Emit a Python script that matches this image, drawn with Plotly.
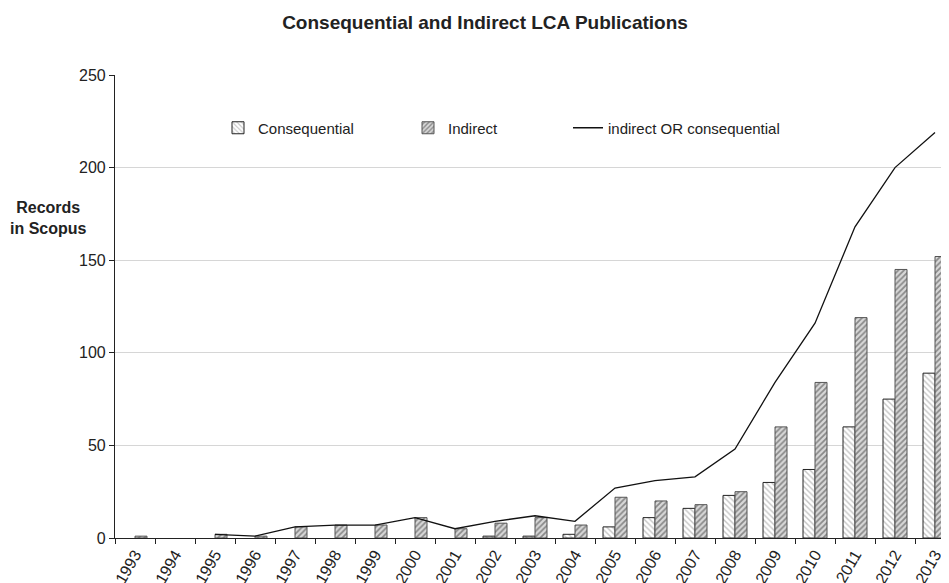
import plotly.graph_objects as go

years = [str(y) for y in range(1993, 2014)]
consequential = [0, 0, 0, 0, 0, 0, 0, 0, 0, 1, 1, 2, 6, 11, 16, 23, 30, 37, 60, 75, 89]
indirect = [1, 0, 2, 1, 6, 7, 7, 11, 5, 8, 11, 7, 22, 20, 18, 25, 60, 84, 119, 145, 152]
combined = [None, None, 2, 1, 6, 7, 7, 11, 5, 9, 12, 9, 27, 31, 33, 48, 84, 116, 168, 200, 219]
y_ticks = [0, 50, 100, 150, 200, 250]

FONT = "Liberation Sans, Arial, sans-serif"
OFF = 8                      # page body margin offset
W, H = 949 - OFF, 583 - OFF  # figure size
# plot area in page pixels: x 115..949, y 75..538
L = 115 - OFF
R = 0
T = 75 - OFF
B = H - (538 - OFF)

def px_x(px):  # page px -> paper x
    return (px - OFF - L) / (W - L - R)

def px_y(py):  # page px -> paper y
    return (H - B - (py - OFF)) / (H - T - B)

def nz(vals):  # zero counts draw no bar
    return [v if v else None for v in vals]

fig = go.Figure()
fig.add_trace(go.Bar(
    x=years, y=nz(consequential), name="Consequential", legend="legend",
    marker=dict(color="white", line=dict(color="#222", width=1),
                pattern=dict(shape="\\", fgcolor="#8a8a8a", bgcolor="white", size=4, solidity=0.35)),
))
fig.add_trace(go.Bar(
    x=years, y=nz(indirect), name="Indirect", legend="legend2",
    marker=dict(color="white", line=dict(color="#555", width=1),
                pattern=dict(shape="/", fgcolor="#3a3a3a", bgcolor="#d8d8d8", size=4, solidity=0.45)),
))
fig.add_trace(go.Scatter(
    x=years, y=combined, name="indirect OR consequential", legend="legend3",
    mode="lines", line=dict(color="#111", width=1.3), connectgaps=False,
))

leg_common = dict(font=dict(family=FONT, size=15, color="#222"), bgcolor="rgba(0,0,0,0)",
                  yanchor="middle", xanchor="left", itemwidth=30, tracegroupgap=0)
fig.update_layout(
    width=W, height=H,
    margin=dict(l=L, r=R, t=T, b=B, autoexpand=False),
    paper_bgcolor="white", plot_bgcolor="white",
    barmode="group", bargap=0.4, bargroupgap=0,
    font=dict(family=FONT, size=16, color="#222"),
    title=dict(text="<b>Consequential and Indirect LCA Publications</b>",
               x=(485 - OFF) / W, y=1 - (22 - OFF) / H, xref="container", yref="container",
               xanchor="center", yanchor="middle",
               font=dict(family=FONT, size=19, color="#222")),
    legend=dict(x=px_x(218), y=px_y(128), **leg_common),
    legend2=dict(x=px_x(408), y=px_y(128), **leg_common),
    legend3=dict(x=px_x(568), y=px_y(128), **leg_common),
    xaxis=dict(type="category", range=[-0.5, 20.35], tickson="boundaries",
               ticks="outside", ticklen=5, tickcolor="#222", tickangle=-60,
               showline=True, linecolor="#222", linewidth=1.2, showgrid=False,
               automargin=False,
               tickfont=dict(family=FONT, size=16, color="#222")),
    yaxis=dict(range=[0, 250], tickvals=y_ticks, ticks="outside", ticklen=5, tickcolor="#222",
               showline=True, linecolor="#222", linewidth=1.2, automargin=False,
               showgrid=True, gridcolor="#d6d6d6", gridwidth=1, zeroline=False,
               tickfont=dict(family=FONT, size=16, color="#222")),
    showlegend=True,
)
fig.add_annotation(text="<b>Records<br>in Scopus</b>", xref="paper", yref="paper",
                   x=px_x(48), y=px_y(218), xanchor="center", yanchor="middle",
                   showarrow=False, font=dict(family=FONT, size=16, color="#222"))

fig.write_html("out.html")
